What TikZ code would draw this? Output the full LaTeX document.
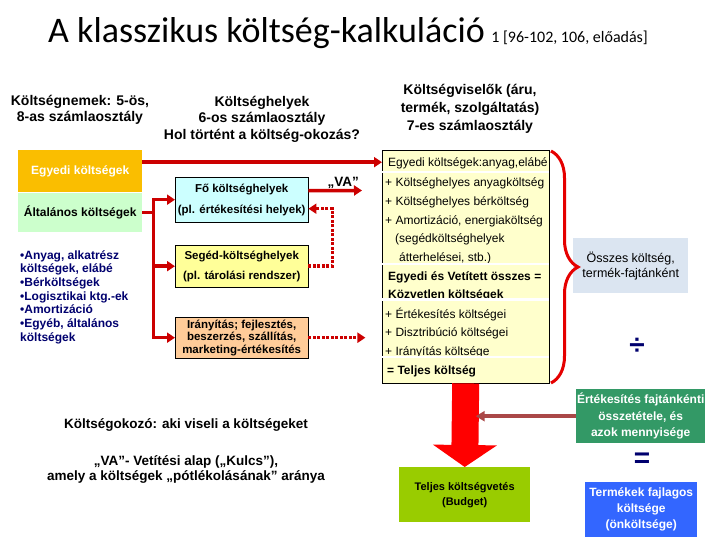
\documentclass[tikz,border=0pt]{standalone}
\usepackage{fontspec}
\setmainfont{Liberation Sans}
\newfontfamily\calibri{Carlito}
\usepackage{tikz}
\usetikzlibrary{arrows.meta,positioning,decorations.pathreplacing}
\definecolor{piros}{RGB}{204,0,0}
\definecolor{elenk}{RGB}{255,0,0}
\definecolor{arany}{RGB}{250,190,0}
\definecolor{halvzold}{RGB}{204,255,204}
\definecolor{cian}{RGB}{204,255,255}
\definecolor{citrom}{RGB}{255,255,153}
\definecolor{barack}{RGB}{255,204,153}
\definecolor{krem}{RGB}{255,255,204}
\definecolor{szurkekek}{RGB}{219,229,241}
\definecolor{tengerzold}{RGB}{51,153,102}
\definecolor{almazold}{RGB}{153,204,0}
\definecolor{kiralykek}{RGB}{51,102,255}
\definecolor{sotetkek}{RGB}{0,0,110}
\definecolor{barna}{RGB}{170,72,72}

\begin{document}
\begin{tikzpicture}[
  x=1pt,y=-1pt,
  every node/.style={align=center,inner sep=1pt,font=\bfseries\fontsize{12}{15}\selectfont},
  fejlec/.style={font=\bfseries\fontsize{14}{16.5}\selectfont},
  hely/.style={draw,anchor=north west,minimum width=133pt,font=\bfseries\fontsize{11.5}{21}\selectfont},
  lap/.style={anchor=north west,inner sep=0pt},
  sor/.style={anchor=base west,inner sep=0pt,font=\fontsize{12}{14}\selectfont},
  vsor/.style={sor,font=\bfseries\fontsize{12}{14}\selectfont},
  arr/.style={-{Triangle[length=8pt,width=10pt]},line width=3.5pt,draw=piros},
  pont/.style={arr,dash pattern=on 3pt off 1.5pt},
  valaszto/.style={white,line width=2.5pt}
]
\useasboundingbox (0,0) rectangle (720,540);

\node[anchor=base west,inner sep=0pt,font=\calibri\fontsize{36}{36}\selectfont] (cim) at (48,43) {A klasszikus költség-kalkuláció};
\node[anchor=base west,inner sep=0pt,font=\calibri\fontsize{16}{16}\selectfont] (forras) at ([xshift=6pt]cim.base east) {1 [96-102, 106, előadás]};

\node[fejlec] (nemek) at (80,110) {Költségnemek: 5-ös,\\8-as számlaosztály};
\node[fejlec] (helyek) at (262,119) {Költséghelyek\\6-os számlaosztály\\Hol történt a költség-okozás?};
\node[fejlec,font=\bfseries\fontsize{14}{18}\selectfont] (viselok) at (470,109) {Költségviselők (áru,\\termék, szolgáltatás)\\7-es számlaosztály};

\node[lap,fill=arany,text=white,minimum width=124pt,minimum height=42pt] (egyedi) at (18,150) {Egyedi költségek};
\node[lap,fill=halvzold,minimum width=124pt,minimum height=39pt] (altalanos) at (18,193) {Általános költségek};
\node[lap,align=left,text=sotetkek,font=\bfseries\fontsize{12}{13.7}\selectfont] (lista) at (20,250)
  {•Anyag, alkatrész\\költségek, elábé\\•Bérköltségek\\•Logisztikai ktg.-ek\\•Amortizáció\\•Egyéb, általános\\költségek};

\node[hely,fill=cian,minimum height=45pt] (fo) at (175,177) {Fő költséghelyek\\(pl. értékesítési helyek)};
\node[hely,fill=citrom,minimum height=42pt,font=\bfseries\fontsize{11.5}{20}\selectfont] (seged) at (175,245) {Segéd-költséghelyek\\(pl. tárolási rendszer)};
\node[hely,fill=barack,minimum height=41pt,font=\bfseries\fontsize{11.5}{12.5}\selectfont] (iranyitas) at (175,317) {Irányítás; fejlesztés,\\beszerzés, szállítás,\\marketing-értékesítés};

\node[lap,draw,fill=krem,minimum width=167pt,minimum height=233pt] (viselo) at (382,150) {};
\node[sor] (s1) at (388,167) {Egyedi költségek:anyag,elábé};
\node[sor] (s2) at (385,187) {+ Költséghelyes anyagköltség};
\node[sor] (s3) at (385,206) {+ Költséghelyes bérköltség};
\node[sor] (s4) at (385,225) {+ Amortizáció, energiaköltség};
\node[sor] (s5) at (395,243) {(segédköltséghelyek};
\node[sor] (s6) at (399,261) {átterhelései, stb.)};
\node[vsor] (s7) at (388,280) {Egyedi és Vetített összes =};
\node[vsor] (s8) at (388,298.5) {Közvetlen költségek};
\node[sor] (s9) at (385,318) {+ Értékesítés költségei};
\node[sor] (s10) at (385,336) {+ Disztribúció költségei};
\node[sor] (s11) at (385,355.5) {+ Irányítás költsége};
\node[vsor] (s12) at (387,374) {= Teljes költség};
\draw[valaszto] (382,172) -- (549,172);
\draw[valaszto] (382,264) -- (549,264);
\draw[valaszto] (382,299.5) -- (549,299.5);
\draw[valaszto] (382,357) -- (549,357);

\node[lap,fill=szurkekek,minimum width=115pt,minimum height=55pt,font=\fontsize{12.5}{15}\selectfont] (osszes) at (573,238) {Összes költség,\\termék-fajtánként};
\node[text=sotetkek,font=\bfseries\fontsize{28}{28}\selectfont] (osztas) at (637,346) {÷};
\node[lap,fill=tengerzold,text=white,minimum width=129pt,minimum height=54pt,font=\bfseries\fontsize{12}{16.5}\selectfont] (ertek) at (576,389) {Értékesítés fajtánkénti\\összetétele, és\\azok mennyisége};
\node[text=sotetkek,font=\bfseries\fontsize{28}{28}\selectfont] (egyenlo) at (642,460) {=};
\node[lap,fill=kiralykek,text=white,minimum width=112pt,minimum height=55pt,font=\bfseries\fontsize{12}{16}\selectfont] (fajlagos) at (585,482) {Termékek fajlagos\\költsége\\(önköltsége)};
\node[lap,fill=almazold,minimum width=131pt,minimum height=55pt,font=\bfseries\fontsize{11}{15}\selectfont] (budget) at (399,467) {Teljes költségvetés\\(Budget)};

\node[font=\bfseries\fontsize{13.5}{15}\selectfont] (okozo) at (186,425) {Költségokozó: aki viseli a költségeket};
\node[font=\bfseries\fontsize{13.5}{15}\selectfont] (kulcs) at (186,469) {„VA”- Vetítési alap („Kulcs”),\\amely a költségek „pótlékolásának” aránya};

\draw[arr] ([yshift=9pt]egyedi.east) -- ([yshift=9pt]egyedi.east -| viselo.west);
\draw[arr] (altalanos.east) -- ++(11,0) |- (fo.west);
\draw[arr] (altalanos.east) -- ++(11,0) |- (seged.west);
\draw[arr] (altalanos.east) -- ++(11,0) |- (iranyitas.west);
\coordinate (vavege) at (362,190.5);
\draw[arr] ([yshift=9pt]fo.east) -- (vavege) node[pos=0.65,above=-1pt,font=\bfseries\fontsize{13.5}{15}\selectfont] (va) {„VA”};
\draw[pont] (seged.east) -- ++(24,0) |- ([yshift=-9pt]fo.east);
\draw[pont] (iranyitas.east) -- ++(57,0) coordinate (iranyvege);
\draw[decorate,decoration={brace,amplitude=27pt},draw=elenk!90!black,line width=3pt] (551,151) -- (551,383);
\draw[-{Triangle[length=22pt,width=63pt]},line width=27pt,draw=elenk] (viselo.south) -- (budget.north);
\draw[-{Triangle[length=9pt,width=10pt]},line width=4pt,draw=barna] (ertek.west) -- ([xshift=10pt]viselo.south |- ertek.west);
\end{tikzpicture}
\end{document}
